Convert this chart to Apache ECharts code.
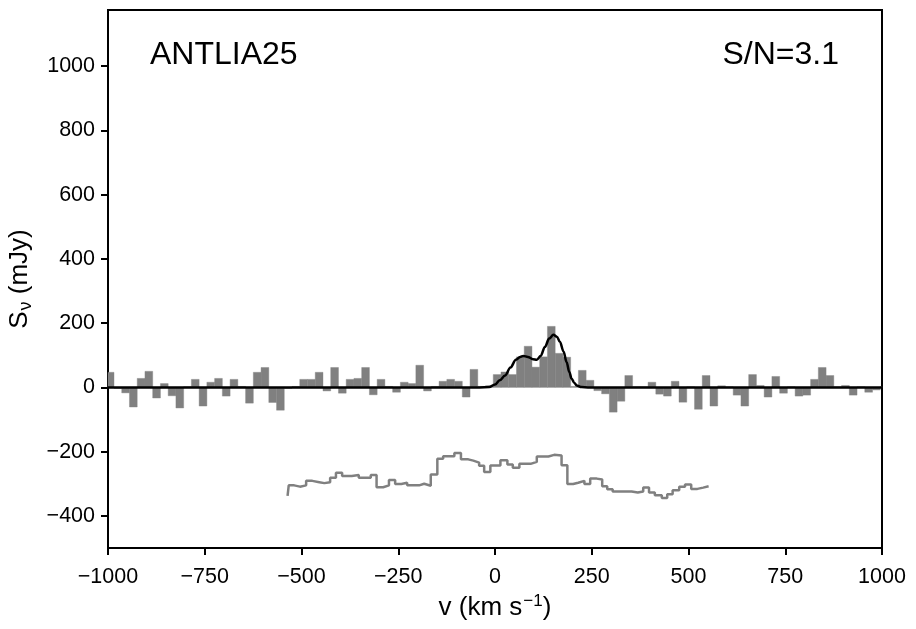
<!DOCTYPE html>
<html lang="en">
<head>
	<meta charset="UTF-8">
	<title>ANTLIA25</title>
	<script src="https://cdn.jsdelivr.net/npm/echarts@6/dist/echarts.min.js"></script>
	<style>
		body { margin: 0; background: #fff; }
	</style>
</head>
<body>
	<div id="specChart" style="width: 916px; height: 629px;"></div>
	<script type="text/javascript">

		// channel grid of the spectrum (km/s)
		const chanStart = -994.5;
		const chanWidth = 20;

		// observed flux per channel (mJy)
		const flux = [
			47, -3, -17, -61, 28, 50, -33, 12, -26, -64,
			2, 25, -58, 16, 28, -27, 25, 3, -49, 47,
			62, -47, -71, -3, 3, 25, 25, 47, -11, 62,
			-18, 25, 28, 62, -23, 25, 3, -15, 16, 12,
			69, -11, 3, 19, 25, 19, -30, 56, 3, 5,
			40, 48, 40, 95, 128, 63, 95, 190, 106, 94,
			3, 53, 22, -10, -20, -77, -43, 37, 2, 2,
			16, -21, -27, 19, -46, 2, -68, 37, -58, 5,
			2, -24, -58, 40, 6, -30, 34, -18, 2, -27,
			-24, 25, 62, 37, 2, 6, -24, 2, -15, -8,
			2
		];

		// fitted profile
		const fitVel = [-1000, -40, -15, 0, 12, 26, 40, 54, 65, 73, 85, 98, 108, 118, 129, 140, 151, 160, 168, 177, 185, 192, 198, 205, 211, 224, 240, 1000];
		const fitFlux = [0, 0, 1, 9, 22, 37, 62, 86, 95, 98, 95, 88, 86, 98, 126, 152, 164, 158, 141, 112, 79, 48, 27, 14, 6, 1, 0, 0];

		// grey step trace underneath (edge velocity, level)
		const refVel = [-536, -533, -519, -504, -488, -472, -454, -441, -426, -411, -395, -370, -352, -321, -306, -289, -274, -258, -242, -227, -196, -183, -166, -149, -134, -105, -88, -69, -56, -41, -28, -12, 14, 32, 46, 63, 92, 108, 138, 153, 172, 187, 202, 215, 231, 246, 263, 277, 290, 304, 353, 369, 383, 398, 413, 431, 445, 459, 476, 491, 507, 523, 538, 552];
		const refFlux = [-338, -305, -309, -305, -291, -295, -298, -295, -281, -266, -276, -273, -281, -273, -311, -305, -288, -301, -297, -305, -300, -306, -271, -222, -214, -204, -224, -228, -234, -244, -263, -243, -227, -240, -250, -238, -232, -215, -210, -212, -242, -301, -297, -291, -301, -284, -287, -308, -317, -324, -327, -324, -312, -327, -336, -344, -333, -320, -309, -302, -316, -312, -308, -308];

		const yTicks = [-400, -200, 0, 200, 400, 600, 800, 1000];

		const barData = flux.map((s, i) => [chanStart + i * chanWidth, s]);
		const fitData = fitVel.map((v, i) => [v, fitFlux[i]]);
		const refData = refVel.map((v, i) => [v, refFlux[i]]);

		const fontName = 'Liberation Sans';
		const minus = (val) => String(val).replace('-', '\u2212');

		const chart = echarts.init(document.getElementById('specChart'));

		chart.setOption({
			animation: false,
			textStyle: { fontFamily: fontName },
			title: [{
				text: 'ANTLIA25',
				left: 145,
				top: 34,
				textStyle: { fontFamily: fontName, fontSize: 32, fontWeight: 'normal', color: '#000' }
			}, {
				text: 'S/N=3.1',
				right: 72,
				top: 34,
				textStyle: { fontFamily: fontName, fontSize: 32, fontWeight: 'normal', color: '#000' }
			}],
			grid: {
				left: 108,
				top: 10,
				width: 774,
				height: 538,
				outerBoundsMode: 'none',
				containLabel: false,
				show: true,
				borderColor: '#000',
				borderWidth: 2,
				backgroundColor: 'transparent'
			},
			xAxis: {
				type: 'value',
				min: -1000,
				max: 1000,
				interval: 250,
				name: '{t|v (km s}{sup|\u22121}{t|)}',
				nameLocation: 'middle',
				nameGap: 43,
				nameTextStyle: {
					rich: {
						t: { fontFamily: fontName, fontSize: 26, color: '#000', lineHeight: 30 },
						sup: { fontFamily: fontName, fontSize: 17, color: '#000', verticalAlign: 'top', lineHeight: 30, padding: [0, 0, 14, 1] }
					}
				},
				axisLine: { onZero: false, lineStyle: { color: '#000', width: 2 } },
				axisTick: { show: true, inside: false, length: 7, lineStyle: { color: '#000', width: 2 } },
				axisLabel: { color: '#000', fontSize: 21.5, margin: 18, formatter: minus },
				splitLine: { show: false }
			},
			yAxis: {
				type: 'value',
				min: -500,
				max: 1175,
				name: '{t|S}{sub|\u03bd}{t| (mJy)}',
				nameLocation: 'middle',
				nameGap: 73,
				nameRotate: 90,
				nameTextStyle: {
					rich: {
						t: { fontFamily: fontName, fontSize: 26, color: '#000', lineHeight: 30 },
						sub: { fontFamily: fontName, fontSize: 18, color: '#000', verticalAlign: 'bottom', lineHeight: 30, padding: [10, 0, 0, 1] }
					}
				},
				axisLine: { onZero: false, lineStyle: { color: '#000', width: 2 } },
				axisTick: { show: true, inside: false, length: 7, customValues: yTicks, lineStyle: { color: '#000', width: 2 } },
				axisLabel: { color: '#000', fontSize: 21.5, margin: 13, customValues: yTicks, formatter: minus },
				splitLine: { show: false }
			},
			series: [{
				name: 'flux',
				type: 'custom',
				data: barData,
				z: 1,
				renderItem: (params, api) => {
					const v = api.value(0);
					const s = api.value(1);
					const a = api.coord([v - chanWidth / 2, s]);
					const b = api.coord([v + chanWidth / 2, 0]);
					const rect = echarts.graphic.clipRectByRect({
						x: a[0],
						y: Math.min(a[1], b[1]),
						width: b[0] - a[0],
						height: Math.abs(b[1] - a[1])
					}, {
						x: params.coordSys.x,
						y: params.coordSys.y,
						width: params.coordSys.width,
						height: params.coordSys.height
					});
					return rect && {
						type: 'rect',
						shape: rect,
						style: { fill: '#808080', stroke: '#808080', lineWidth: 0.4 }
					};
				}
			}, {
				name: 'reference',
				type: 'line',
				step: 'end',
				data: refData,
				symbol: 'none',
				z: 2,
				lineStyle: { color: '#808080', width: 2.5 }
			}, {
				name: 'fit',
				type: 'line',
				data: fitData,
				smooth: 0.35,
				smoothMonotone: 'x',
				symbol: 'none',
				z: 3,
				lineStyle: { color: '#000', width: 2.5 }
			}]
		});
	</script>
</body>
</html>
